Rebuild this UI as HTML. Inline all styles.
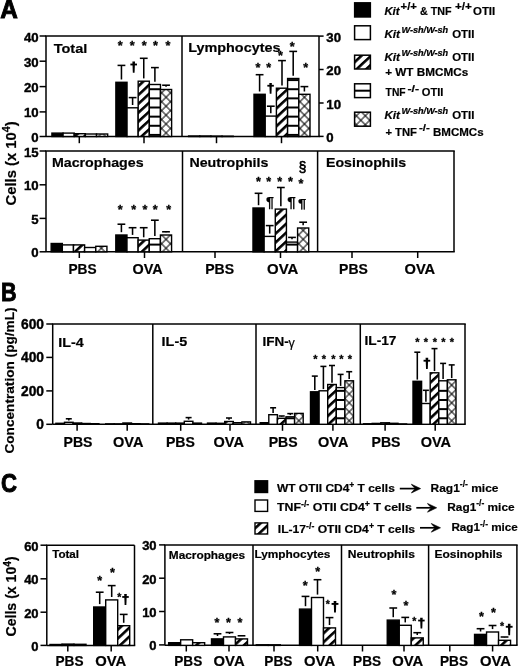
<!DOCTYPE html>
<html><head><meta charset="utf-8"><title>Figure</title>
<style>html,body{margin:0;padding:0;background:#fff;overflow:hidden;}svg{display:block;filter:blur(0.3px);}text{font-family:"Liberation Sans",sans-serif;}</style>
</head><body>
<svg width="520" height="667" viewBox="0 0 520 667" font-family="Liberation Sans, sans-serif" font-weight="bold" fill="#000">
<style>text{white-space:pre;stroke:#000;stroke-width:0.2px;paint-order:stroke;}</style>
<defs>
<pattern id="pd" patternUnits="userSpaceOnUse" width="6.5" height="6.5" patternTransform="rotate(47)"><rect x="0" y="0" width="6.5" height="6.5" fill="#fff"/><rect x="0" y="0" width="2.6" height="6.5" fill="#000"/></pattern>
<pattern id="px" patternUnits="userSpaceOnUse" width="6.3" height="6.3" patternTransform="rotate(45)"><rect x="0" y="0" width="6.3" height="6.3" fill="#fff"/><rect x="0" y="0" width="0.5" height="6.3" fill="#000"/><rect x="5.8" y="0" width="0.5" height="6.3" fill="#000"/><rect x="0" y="0" width="6.3" height="0.5" fill="#000"/><rect x="0" y="5.8" width="6.3" height="0.5" fill="#000"/></pattern>
</defs>
<rect x="0" y="0" width="520" height="667" fill="#fff"/>
<text x="0.20" y="17.60" font-size="25" text-anchor="start" textLength="17.60" lengthAdjust="spacingAndGlyphs" style="stroke-width:0.9px">A</text>
<text x="1.00" y="301.30" font-size="25" text-anchor="start" textLength="15.60" lengthAdjust="spacingAndGlyphs" style="stroke-width:0.9px">B</text>
<text x="1.00" y="492.40" font-size="25" text-anchor="start" textLength="16.00" lengthAdjust="spacingAndGlyphs" style="stroke-width:0.9px">C</text>
<text x="38.60" y="41.57" font-size="13.2" text-anchor="end" style="stroke-width:0.4px">40</text>
<text x="38.60" y="66.77" font-size="13.2" text-anchor="end" style="stroke-width:0.4px">30</text>
<text x="38.60" y="92.17" font-size="13.2" text-anchor="end" style="stroke-width:0.4px">20</text>
<text x="38.60" y="117.47" font-size="13.2" text-anchor="end" style="stroke-width:0.4px">10</text>
<text x="38.60" y="142.07" font-size="13.2" text-anchor="end" style="stroke-width:0.4px">0</text>
<text x="38.60" y="156.57" font-size="13.2" text-anchor="end" style="stroke-width:0.4px">15</text>
<text x="38.60" y="190.37" font-size="13.2" text-anchor="end" style="stroke-width:0.4px">10</text>
<text x="38.60" y="223.97" font-size="13.2" text-anchor="end" style="stroke-width:0.4px">5</text>
<text x="38.60" y="257.37" font-size="13.2" text-anchor="end" style="stroke-width:0.4px">0</text>
<text x="326.30" y="41.67" font-size="13.2" text-anchor="start" style="stroke-width:0.4px">30</text>
<text x="326.30" y="75.07" font-size="13.2" text-anchor="start" style="stroke-width:0.4px">20</text>
<text x="326.30" y="108.57" font-size="13.2" text-anchor="start" style="stroke-width:0.4px">10</text>
<text x="326.30" y="141.97" font-size="13.2" text-anchor="start" style="stroke-width:0.4px">0</text>
<g transform="translate(15.80,163.40) rotate(-90) translate(-42.00,0) scale(0.9991,1)">
<text x="0.00" y="0.00" font-size="14.80">Cells (x 10</text>
<text x="73.22" y="-5.62" font-size="10.66">4</text>
<text x="79.15" y="0.00" font-size="14.80">)</text>
</g>
<line x1="39.60" y1="36.00" x2="46.00" y2="36.00" stroke="#000" stroke-width="1.5"/>
<line x1="39.60" y1="61.20" x2="46.00" y2="61.20" stroke="#000" stroke-width="1.5"/>
<line x1="39.60" y1="86.60" x2="46.00" y2="86.60" stroke="#000" stroke-width="1.5"/>
<line x1="39.60" y1="111.90" x2="46.00" y2="111.90" stroke="#000" stroke-width="1.5"/>
<line x1="39.60" y1="136.50" x2="46.00" y2="136.50" stroke="#000" stroke-width="1.5"/>
<line x1="46.00" y1="36.00" x2="46.00" y2="136.50" stroke="#000" stroke-width="1.5"/>
<line x1="45.25" y1="36.00" x2="319.00" y2="36.00" stroke="#000" stroke-width="1.5"/>
<line x1="182.00" y1="36.00" x2="182.00" y2="136.50" stroke="#000" stroke-width="1.5"/>
<line x1="319.00" y1="36.00" x2="319.00" y2="136.50" stroke="#000" stroke-width="1.5"/>
<line x1="319.00" y1="36.10" x2="323.60" y2="36.10" stroke="#000" stroke-width="1.5"/>
<line x1="319.00" y1="69.50" x2="323.60" y2="69.50" stroke="#000" stroke-width="1.5"/>
<line x1="319.00" y1="103.00" x2="323.60" y2="103.00" stroke="#000" stroke-width="1.5"/>
<line x1="319.00" y1="136.40" x2="323.60" y2="136.40" stroke="#000" stroke-width="1.5"/>
<line x1="46.00" y1="136.50" x2="319.75" y2="136.50" stroke="#000" stroke-width="1.5"/>
<line x1="79.30" y1="136.50" x2="79.30" y2="143.20" stroke="#000" stroke-width="1.5"/>
<line x1="144.00" y1="136.50" x2="144.00" y2="143.20" stroke="#000" stroke-width="1.5"/>
<line x1="216.50" y1="136.50" x2="216.50" y2="143.20" stroke="#000" stroke-width="1.5"/>
<line x1="281.50" y1="136.50" x2="281.50" y2="143.20" stroke="#000" stroke-width="1.5"/>
<text x="53.74" y="53.00" font-size="13.6" text-anchor="start" textLength="33.55" lengthAdjust="spacingAndGlyphs">Total</text>
<text x="188.24" y="51.90" font-size="13.6" text-anchor="start" textLength="92.24" lengthAdjust="spacingAndGlyphs">Lymphocytes</text>
<rect x="51.92" y="133.10" width="11.15" height="3.40" fill="#000" stroke="#000" stroke-width="1.4"/>
<rect x="63.07" y="133.10" width="11.15" height="3.40" fill="#fff" stroke="#000" stroke-width="1.4"/>
<rect x="74.22" y="133.70" width="11.15" height="2.80" fill="url(#pd)" stroke="#000" stroke-width="1.4"/>
<rect x="85.38" y="134.00" width="11.15" height="2.50" fill="#fff" stroke="#000" stroke-width="1.4"/>
<pattern id="px1" href="#px" patternTransform="translate(102.10,132.90) rotate(45)"/>
<rect x="96.53" y="134.00" width="11.15" height="2.50" fill="url(#px1)" stroke="#000" stroke-width="1.4"/>
<rect x="115.88" y="82.30" width="11.15" height="54.20" fill="#000" stroke="#000" stroke-width="1.4"/>
<rect x="127.03" y="107.80" width="11.15" height="28.70" fill="#fff" stroke="#000" stroke-width="1.4"/>
<rect x="138.18" y="81.20" width="11.15" height="55.30" fill="url(#pd)" stroke="#000" stroke-width="1.4"/>
<rect x="149.32" y="84.50" width="11.15" height="52.00" fill="#fff" stroke="#000" stroke-width="1.4"/>
<line x1="149.32" y1="134.92" x2="160.47" y2="134.92" stroke="#000" stroke-width="2.0"/>
<line x1="149.32" y1="125.78" x2="160.47" y2="125.78" stroke="#000" stroke-width="2.0"/>
<line x1="149.32" y1="116.64" x2="160.47" y2="116.64" stroke="#000" stroke-width="2.0"/>
<line x1="149.32" y1="107.50" x2="160.47" y2="107.50" stroke="#000" stroke-width="2.0"/>
<line x1="149.32" y1="98.36" x2="160.47" y2="98.36" stroke="#000" stroke-width="2.0"/>
<line x1="149.32" y1="89.22" x2="160.47" y2="89.22" stroke="#000" stroke-width="2.0"/>
<pattern id="px2" href="#px" patternTransform="translate(166.05,132.90) rotate(45)"/>
<rect x="160.47" y="89.50" width="11.15" height="47.00" fill="url(#px2)" stroke="#000" stroke-width="1.4"/>
<line x1="121.45" y1="79.50" x2="121.45" y2="65.40" stroke="#000" stroke-width="1.55"/>
<line x1="117.55" y1="65.40" x2="125.35" y2="65.40" stroke="#000" stroke-width="1.55"/>
<line x1="132.60" y1="105.00" x2="132.60" y2="97.60" stroke="#000" stroke-width="1.55"/>
<line x1="128.70" y1="97.60" x2="136.50" y2="97.60" stroke="#000" stroke-width="1.55"/>
<line x1="143.75" y1="78.40" x2="143.75" y2="58.30" stroke="#000" stroke-width="1.55"/>
<line x1="139.85" y1="58.30" x2="147.65" y2="58.30" stroke="#000" stroke-width="1.55"/>
<line x1="154.90" y1="81.70" x2="154.90" y2="67.60" stroke="#000" stroke-width="1.55"/>
<line x1="151.00" y1="67.60" x2="158.80" y2="67.60" stroke="#000" stroke-width="1.55"/>
<line x1="166.05" y1="86.70" x2="166.05" y2="85.20" stroke="#000" stroke-width="1.55"/>
<line x1="162.15" y1="85.20" x2="169.95" y2="85.20" stroke="#000" stroke-width="1.55"/>
<text x="120.20" y="50.33" font-size="12.6" text-anchor="middle" style="stroke-width:0.3px">*</text>
<text x="132.30" y="50.33" font-size="12.6" text-anchor="middle" style="stroke-width:0.3px">*</text>
<text x="144.20" y="50.33" font-size="12.6" text-anchor="middle" style="stroke-width:0.3px">*</text>
<text x="155.40" y="50.33" font-size="12.6" text-anchor="middle" style="stroke-width:0.3px">*</text>
<text x="168.00" y="50.33" font-size="12.6" text-anchor="middle" style="stroke-width:0.3px">*</text>
<path d="M132.40,61.60 L135.00,61.60 L134.57,72.70 L132.83,72.70 Z" fill="#000"/>
<rect x="130.39" y="63.58" width="6.61" height="1.82" fill="#000"/>
<rect x="188.62" y="136.00" width="11.15" height="0.50" fill="#000" stroke="#000" stroke-width="1.4"/>
<rect x="199.78" y="136.00" width="11.15" height="0.50" fill="#fff" stroke="#000" stroke-width="1.4"/>
<rect x="210.93" y="136.10" width="11.15" height="0.40" fill="url(#pd)" stroke="#000" stroke-width="1.4"/>
<rect x="222.07" y="136.20" width="11.15" height="0.30" fill="#fff" stroke="#000" stroke-width="1.4"/>
<rect x="254.00" y="94.30" width="11.20" height="42.20" fill="#000" stroke="#000" stroke-width="1.4"/>
<rect x="265.20" y="116.10" width="11.20" height="20.40" fill="#fff" stroke="#000" stroke-width="1.4"/>
<rect x="276.40" y="88.20" width="11.20" height="48.30" fill="url(#pd)" stroke="#000" stroke-width="1.4"/>
<rect x="287.60" y="78.50" width="11.20" height="58.00" fill="#fff" stroke="#000" stroke-width="1.4"/>
<line x1="287.60" y1="134.92" x2="298.80" y2="134.92" stroke="#000" stroke-width="2.0"/>
<line x1="287.60" y1="125.78" x2="298.80" y2="125.78" stroke="#000" stroke-width="2.0"/>
<line x1="287.60" y1="116.64" x2="298.80" y2="116.64" stroke="#000" stroke-width="2.0"/>
<line x1="287.60" y1="107.50" x2="298.80" y2="107.50" stroke="#000" stroke-width="2.0"/>
<line x1="287.60" y1="98.36" x2="298.80" y2="98.36" stroke="#000" stroke-width="2.0"/>
<line x1="287.60" y1="89.22" x2="298.80" y2="89.22" stroke="#000" stroke-width="2.0"/>
<line x1="287.60" y1="80.08" x2="298.80" y2="80.08" stroke="#000" stroke-width="2.0"/>
<pattern id="px3" href="#px" patternTransform="translate(304.40,132.90) rotate(45)"/>
<rect x="298.80" y="94.30" width="11.20" height="42.20" fill="url(#px3)" stroke="#000" stroke-width="1.4"/>
<line x1="259.60" y1="91.50" x2="259.60" y2="74.70" stroke="#000" stroke-width="1.55"/>
<line x1="255.70" y1="74.70" x2="263.50" y2="74.70" stroke="#000" stroke-width="1.55"/>
<line x1="270.80" y1="113.30" x2="270.80" y2="106.20" stroke="#000" stroke-width="1.55"/>
<line x1="266.90" y1="106.20" x2="274.70" y2="106.20" stroke="#000" stroke-width="1.55"/>
<line x1="282.00" y1="85.40" x2="282.00" y2="60.60" stroke="#000" stroke-width="1.55"/>
<line x1="278.10" y1="60.60" x2="285.90" y2="60.60" stroke="#000" stroke-width="1.55"/>
<line x1="293.20" y1="75.70" x2="293.20" y2="51.40" stroke="#000" stroke-width="1.55"/>
<line x1="289.30" y1="51.40" x2="297.10" y2="51.40" stroke="#000" stroke-width="1.55"/>
<line x1="304.40" y1="91.50" x2="304.40" y2="86.60" stroke="#000" stroke-width="1.55"/>
<line x1="300.50" y1="86.60" x2="308.30" y2="86.60" stroke="#000" stroke-width="1.55"/>
<text x="258.00" y="71.83" font-size="12.6" text-anchor="middle" style="stroke-width:0.3px">*</text>
<text x="268.70" y="71.83" font-size="12.6" text-anchor="middle" style="stroke-width:0.3px">*</text>
<text x="280.40" y="59.63" font-size="12.6" text-anchor="middle" style="stroke-width:0.3px">*</text>
<text x="292.30" y="51.23" font-size="12.6" text-anchor="middle" style="stroke-width:0.3px">*</text>
<text x="305.80" y="71.83" font-size="12.6" text-anchor="middle" style="stroke-width:0.3px">*</text>
<path d="M269.32,82.90 L271.88,82.90 L271.45,93.80 L269.75,93.80 Z" fill="#000"/>
<rect x="267.35" y="84.84" width="6.50" height="1.79" fill="#000"/>
<line x1="39.60" y1="151.00" x2="46.00" y2="151.00" stroke="#000" stroke-width="1.5"/>
<line x1="39.60" y1="184.80" x2="46.00" y2="184.80" stroke="#000" stroke-width="1.5"/>
<line x1="39.60" y1="218.40" x2="46.00" y2="218.40" stroke="#000" stroke-width="1.5"/>
<line x1="39.60" y1="251.80" x2="46.00" y2="251.80" stroke="#000" stroke-width="1.5"/>
<line x1="46.00" y1="151.00" x2="46.00" y2="251.80" stroke="#000" stroke-width="1.5"/>
<line x1="45.25" y1="151.00" x2="454.75" y2="151.00" stroke="#000" stroke-width="1.5"/>
<line x1="182.50" y1="151.00" x2="182.50" y2="251.80" stroke="#000" stroke-width="1.5"/>
<line x1="317.60" y1="151.00" x2="317.60" y2="251.80" stroke="#000" stroke-width="1.5"/>
<line x1="454.00" y1="151.00" x2="454.00" y2="251.80" stroke="#000" stroke-width="1.5"/>
<line x1="46.00" y1="251.80" x2="454.75" y2="251.80" stroke="#000" stroke-width="1.5"/>
<line x1="79.30" y1="251.80" x2="79.30" y2="258.00" stroke="#000" stroke-width="1.5"/>
<line x1="144.50" y1="251.80" x2="144.50" y2="258.00" stroke="#000" stroke-width="1.5"/>
<line x1="215.00" y1="251.80" x2="215.00" y2="258.00" stroke="#000" stroke-width="1.5"/>
<line x1="280.50" y1="251.80" x2="280.50" y2="258.00" stroke="#000" stroke-width="1.5"/>
<line x1="352.00" y1="251.80" x2="352.00" y2="258.00" stroke="#000" stroke-width="1.5"/>
<line x1="417.70" y1="251.80" x2="417.70" y2="258.00" stroke="#000" stroke-width="1.5"/>
<text x="51.95" y="167.00" font-size="13.6" text-anchor="start" textLength="91.63" lengthAdjust="spacingAndGlyphs">Macrophages</text>
<text x="189.45" y="167.20" font-size="13.6" text-anchor="start" textLength="78.93" lengthAdjust="spacingAndGlyphs">Neutrophils</text>
<text x="326.05" y="167.20" font-size="13.6" text-anchor="start" textLength="80.13" lengthAdjust="spacingAndGlyphs">Eosinophils</text>
<text x="68.38" y="273.80" font-size="13.9" text-anchor="start" textLength="28.15" lengthAdjust="spacingAndGlyphs">PBS</text>
<text x="132.53" y="273.80" font-size="13.9" text-anchor="start" textLength="30.14" lengthAdjust="spacingAndGlyphs">OVA</text>
<text x="205.26" y="273.80" font-size="13.9" text-anchor="start" textLength="28.89" lengthAdjust="spacingAndGlyphs">PBS</text>
<text x="267.11" y="273.80" font-size="13.9" text-anchor="start" textLength="31.27" lengthAdjust="spacingAndGlyphs">OVA</text>
<text x="339.06" y="273.80" font-size="13.9" text-anchor="start" textLength="28.78" lengthAdjust="spacingAndGlyphs">PBS</text>
<text x="404.52" y="273.80" font-size="13.9" text-anchor="start" textLength="30.65" lengthAdjust="spacingAndGlyphs">OVA</text>
<rect x="51.17" y="243.50" width="11.15" height="8.30" fill="#000" stroke="#000" stroke-width="1.4"/>
<rect x="62.32" y="244.90" width="11.15" height="6.90" fill="#fff" stroke="#000" stroke-width="1.4"/>
<rect x="73.47" y="244.90" width="11.15" height="6.90" fill="url(#pd)" stroke="#000" stroke-width="1.4"/>
<rect x="84.62" y="247.50" width="11.15" height="4.30" fill="#fff" stroke="#000" stroke-width="1.4"/>
<pattern id="px4" href="#px" patternTransform="translate(101.35,248.20) rotate(45)"/>
<rect x="95.78" y="246.30" width="11.15" height="5.50" fill="url(#px4)" stroke="#000" stroke-width="1.4"/>
<rect x="115.82" y="235.00" width="11.15" height="16.80" fill="#000" stroke="#000" stroke-width="1.4"/>
<rect x="126.97" y="237.70" width="11.15" height="14.10" fill="#fff" stroke="#000" stroke-width="1.4"/>
<rect x="138.12" y="240.10" width="11.15" height="11.70" fill="url(#pd)" stroke="#000" stroke-width="1.4"/>
<rect x="149.27" y="238.70" width="11.15" height="13.10" fill="#fff" stroke="#000" stroke-width="1.4"/>
<line x1="149.27" y1="244.60" x2="160.42" y2="244.60" stroke="#000" stroke-width="2.0"/>
<pattern id="px5" href="#px" patternTransform="translate(166.00,248.20) rotate(45)"/>
<rect x="160.42" y="235.00" width="11.15" height="16.80" fill="url(#px5)" stroke="#000" stroke-width="1.4"/>
<line x1="121.40" y1="232.20" x2="121.40" y2="224.20" stroke="#000" stroke-width="1.55"/>
<line x1="117.50" y1="224.20" x2="125.30" y2="224.20" stroke="#000" stroke-width="1.55"/>
<line x1="132.55" y1="234.90" x2="132.55" y2="227.70" stroke="#000" stroke-width="1.55"/>
<line x1="128.65" y1="227.70" x2="136.45" y2="227.70" stroke="#000" stroke-width="1.55"/>
<line x1="143.70" y1="237.30" x2="143.70" y2="227.70" stroke="#000" stroke-width="1.55"/>
<line x1="139.80" y1="227.70" x2="147.60" y2="227.70" stroke="#000" stroke-width="1.55"/>
<line x1="154.85" y1="235.90" x2="154.85" y2="220.20" stroke="#000" stroke-width="1.55"/>
<line x1="150.95" y1="220.20" x2="158.75" y2="220.20" stroke="#000" stroke-width="1.55"/>
<line x1="166.00" y1="232.20" x2="166.00" y2="231.80" stroke="#000" stroke-width="1.55"/>
<line x1="162.10" y1="231.80" x2="169.90" y2="231.80" stroke="#000" stroke-width="1.55"/>
<text x="120.20" y="214.13" font-size="12.6" text-anchor="middle" style="stroke-width:0.3px">*</text>
<text x="133.70" y="214.13" font-size="12.6" text-anchor="middle" style="stroke-width:0.3px">*</text>
<text x="145.00" y="214.13" font-size="12.6" text-anchor="middle" style="stroke-width:0.3px">*</text>
<text x="155.20" y="214.13" font-size="12.6" text-anchor="middle" style="stroke-width:0.3px">*</text>
<text x="168.70" y="214.13" font-size="12.6" text-anchor="middle" style="stroke-width:0.3px">*</text>
<rect x="252.98" y="208.00" width="11.15" height="43.80" fill="#000" stroke="#000" stroke-width="1.4"/>
<rect x="264.12" y="236.40" width="11.15" height="15.40" fill="#fff" stroke="#000" stroke-width="1.4"/>
<rect x="275.28" y="209.10" width="11.15" height="42.70" fill="url(#pd)" stroke="#000" stroke-width="1.4"/>
<rect x="286.43" y="242.10" width="11.15" height="9.70" fill="#fff" stroke="#000" stroke-width="1.4"/>
<line x1="286.43" y1="244.60" x2="297.58" y2="244.60" stroke="#000" stroke-width="2.0"/>
<pattern id="px6" href="#px" patternTransform="translate(303.15,248.20) rotate(45)"/>
<rect x="297.58" y="228.00" width="11.15" height="23.80" fill="url(#px6)" stroke="#000" stroke-width="1.4"/>
<line x1="258.55" y1="205.20" x2="258.55" y2="193.30" stroke="#000" stroke-width="1.55"/>
<line x1="254.65" y1="193.30" x2="262.45" y2="193.30" stroke="#000" stroke-width="1.55"/>
<line x1="269.70" y1="233.60" x2="269.70" y2="225.60" stroke="#000" stroke-width="1.55"/>
<line x1="265.80" y1="225.60" x2="273.60" y2="225.60" stroke="#000" stroke-width="1.55"/>
<line x1="280.85" y1="206.30" x2="280.85" y2="187.50" stroke="#000" stroke-width="1.55"/>
<line x1="276.95" y1="187.50" x2="284.75" y2="187.50" stroke="#000" stroke-width="1.55"/>
<line x1="292.00" y1="239.30" x2="292.00" y2="237.40" stroke="#000" stroke-width="1.55"/>
<line x1="288.10" y1="237.40" x2="295.90" y2="237.40" stroke="#000" stroke-width="1.55"/>
<line x1="303.15" y1="225.20" x2="303.15" y2="222.20" stroke="#000" stroke-width="1.55"/>
<line x1="299.25" y1="222.20" x2="307.05" y2="222.20" stroke="#000" stroke-width="1.55"/>
<text x="258.40" y="185.73" font-size="12.6" text-anchor="middle" style="stroke-width:0.3px">*</text>
<text x="268.60" y="185.73" font-size="12.6" text-anchor="middle" style="stroke-width:0.3px">*</text>
<text x="279.70" y="185.73" font-size="12.6" text-anchor="middle" style="stroke-width:0.3px">*</text>
<text x="290.40" y="185.73" font-size="12.6" text-anchor="middle" style="stroke-width:0.3px">*</text>
<text x="300.90" y="187.83" font-size="12.6" text-anchor="middle" style="stroke-width:0.3px">*</text>
<text transform="translate(266.10,206.64) scale(0.9444,1)" x="0" y="0" font-size="15.18" font-weight="bold">¶</text>
<text transform="translate(287.27,206.64) scale(1.0633,1)" x="0" y="0" font-size="14.44" font-weight="bold">¶</text>
<text transform="translate(297.88,208.26) scale(1.1103,1)" x="0" y="0" font-size="13.47" font-weight="bold">¶</text>
<text transform="translate(298.64,171.60) scale(0.8745,1)" x="0" y="0" font-size="15.46" font-weight="normal" style="stroke-width:0.75px">§</text>
<rect x="354.6" y="2.8" width="15.80" height="14.20" fill="#000" stroke="#000" stroke-width="1.4"/>
<rect x="354.6" y="25.8" width="15.80" height="13.80" fill="#fff" stroke="#000" stroke-width="1.5"/>
<rect x="354.6" y="55.2" width="15.80" height="13.80" fill="url(#pd)" stroke="#000" stroke-width="1.5"/>
<rect x="354.6" y="83.8" width="15.80" height="13.80" fill="#fff" stroke="#000" stroke-width="1.5"/>
<line x1="354.60" y1="90.70" x2="370.40" y2="90.70" stroke="#000" stroke-width="2.0"/>
<rect x="354.6" y="112.2" width="15.80" height="14.00" fill="url(#px)" stroke="#000" stroke-width="1.5"/>
<text x="384.40" y="15.40" font-size="11.60" font-style="italic" textLength="15.20" lengthAdjust="spacingAndGlyphs">Kit</text>
<text x="400.60" y="10.30" font-size="10.67" textLength="16.40" lengthAdjust="spacingAndGlyphs">+/+</text>
<text x="420.00" y="15.40" font-size="11.60" textLength="31.60" lengthAdjust="spacingAndGlyphs">&amp; TNF</text>
<text x="455.00" y="10.30" font-size="10.67" textLength="17.00" lengthAdjust="spacingAndGlyphs">+/+</text>
<text x="473.00" y="15.40" font-size="11.60" textLength="22.20" lengthAdjust="spacingAndGlyphs">OTII</text>
<text x="384.40" y="37.60" font-size="11.60" font-style="italic" textLength="15.60" lengthAdjust="spacingAndGlyphs">Kit</text>
<text x="401.60" y="32.96" font-size="8.58" font-style="italic" textLength="46.60" lengthAdjust="spacingAndGlyphs">W-sh/W-sh</text>
<text x="452.20" y="37.60" font-size="11.60" textLength="22.20" lengthAdjust="spacingAndGlyphs">OTII</text>
<text x="384.40" y="60.90" font-size="11.60" font-style="italic" textLength="15.60" lengthAdjust="spacingAndGlyphs">Kit</text>
<text x="401.60" y="56.26" font-size="8.58" font-style="italic" textLength="46.60" lengthAdjust="spacingAndGlyphs">W-sh/W-sh</text>
<text x="452.20" y="60.90" font-size="11.60" textLength="22.20" lengthAdjust="spacingAndGlyphs">OTII</text>
<text x="385.20" y="75.80" font-size="11.60" textLength="83.00" lengthAdjust="spacingAndGlyphs">+ WT BMCMCs</text>
<text x="385.60" y="96.20" font-size="11.60" textLength="20.00" lengthAdjust="spacingAndGlyphs">TNF</text>
<text x="407.40" y="91.56" font-size="9.28" textLength="11.60" lengthAdjust="spacingAndGlyphs">-/-</text>
<text x="421.80" y="96.20" font-size="11.60" textLength="21.60" lengthAdjust="spacingAndGlyphs">OTII</text>
<text x="384.40" y="119.10" font-size="11.60" font-style="italic" textLength="15.60" lengthAdjust="spacingAndGlyphs">Kit</text>
<text x="401.60" y="114.46" font-size="8.58" font-style="italic" textLength="46.60" lengthAdjust="spacingAndGlyphs">W-sh/W-sh</text>
<text x="452.20" y="119.10" font-size="11.60" textLength="22.20" lengthAdjust="spacingAndGlyphs">OTII</text>
<text x="385.40" y="135.90" font-size="11.60" textLength="31.60" lengthAdjust="spacingAndGlyphs">+ TNF</text>
<text x="419.00" y="131.26" font-size="9.28" textLength="10.80" lengthAdjust="spacingAndGlyphs">-/-</text>
<text x="433.00" y="135.90" font-size="11.60" textLength="50.60" lengthAdjust="spacingAndGlyphs">BMCMCs</text>
<line x1="46.30" y1="324.00" x2="52.70" y2="324.00" stroke="#000" stroke-width="1.5"/>
<line x1="46.30" y1="357.40" x2="52.70" y2="357.40" stroke="#000" stroke-width="1.5"/>
<line x1="46.30" y1="390.90" x2="52.70" y2="390.90" stroke="#000" stroke-width="1.5"/>
<line x1="46.30" y1="424.30" x2="52.70" y2="424.30" stroke="#000" stroke-width="1.5"/>
<text x="44.00" y="329.09" font-size="13.8" text-anchor="end" style="stroke-width:0.4px">600</text>
<text x="44.00" y="362.49" font-size="13.8" text-anchor="end" style="stroke-width:0.4px">400</text>
<text x="44.00" y="395.99" font-size="13.8" text-anchor="end" style="stroke-width:0.4px">200</text>
<text x="44.00" y="429.39" font-size="13.8" text-anchor="end" style="stroke-width:0.4px">0</text>
<g transform="translate(13.90,380.40) rotate(-90) translate(-73.20,0) scale(1.0041,1)">
<text x="0.00" y="0.00" font-size="13.60">Concentration (pg/mL)</text>
</g>
<line x1="52.70" y1="324.00" x2="52.70" y2="424.30" stroke="#000" stroke-width="1.5"/>
<line x1="51.95" y1="324.00" x2="465.75" y2="324.00" stroke="#000" stroke-width="1.5"/>
<line x1="152.80" y1="324.00" x2="152.80" y2="424.30" stroke="#000" stroke-width="1.5"/>
<line x1="256.00" y1="324.00" x2="256.00" y2="424.30" stroke="#000" stroke-width="1.5"/>
<line x1="360.30" y1="324.00" x2="360.30" y2="424.30" stroke="#000" stroke-width="1.5"/>
<line x1="465.00" y1="324.00" x2="465.00" y2="424.30" stroke="#000" stroke-width="1.5"/>
<line x1="52.70" y1="424.30" x2="465.75" y2="424.30" stroke="#000" stroke-width="1.5"/>
<line x1="77.10" y1="424.30" x2="77.10" y2="430.80" stroke="#000" stroke-width="1.5"/>
<line x1="127.20" y1="424.30" x2="127.20" y2="430.80" stroke="#000" stroke-width="1.5"/>
<line x1="180.70" y1="424.30" x2="180.70" y2="430.80" stroke="#000" stroke-width="1.5"/>
<line x1="230.00" y1="424.30" x2="230.00" y2="430.80" stroke="#000" stroke-width="1.5"/>
<line x1="282.50" y1="424.30" x2="282.50" y2="430.80" stroke="#000" stroke-width="1.5"/>
<line x1="332.90" y1="424.30" x2="332.90" y2="430.80" stroke="#000" stroke-width="1.5"/>
<line x1="385.10" y1="424.30" x2="385.10" y2="430.80" stroke="#000" stroke-width="1.5"/>
<line x1="435.20" y1="424.30" x2="435.20" y2="430.80" stroke="#000" stroke-width="1.5"/>
<text x="63.51" y="447.20" font-size="13.9" text-anchor="start" textLength="28.99" lengthAdjust="spacingAndGlyphs">PBS</text>
<text x="113.03" y="447.20" font-size="13.9" text-anchor="start" textLength="30.34" lengthAdjust="spacingAndGlyphs">OVA</text>
<text x="165.91" y="447.20" font-size="13.9" text-anchor="start" textLength="28.99" lengthAdjust="spacingAndGlyphs">PBS</text>
<text x="213.53" y="447.20" font-size="13.9" text-anchor="start" textLength="30.34" lengthAdjust="spacingAndGlyphs">OVA</text>
<text x="268.71" y="447.20" font-size="13.9" text-anchor="start" textLength="28.99" lengthAdjust="spacingAndGlyphs">PBS</text>
<text x="318.03" y="447.20" font-size="13.9" text-anchor="start" textLength="30.34" lengthAdjust="spacingAndGlyphs">OVA</text>
<text x="371.51" y="447.20" font-size="13.9" text-anchor="start" textLength="28.99" lengthAdjust="spacingAndGlyphs">PBS</text>
<text x="420.73" y="447.20" font-size="13.9" text-anchor="start" textLength="30.34" lengthAdjust="spacingAndGlyphs">OVA</text>
<text x="58.24" y="346.60" font-size="13.6" text-anchor="start" textLength="25.43" lengthAdjust="spacingAndGlyphs">IL-4</text>
<text x="161.64" y="346.20" font-size="13.6" text-anchor="start" textLength="25.56" lengthAdjust="spacingAndGlyphs">IL-5</text>
<text x="262.60" y="346.40" font-size="13.6" text-anchor="start" textLength="26.24" lengthAdjust="spacingAndGlyphs">IFN-</text>
<text x="288.6" y="346.6" font-size="12.6" font-weight="normal" style="stroke-width:0.15px">γ</text>
<text x="364.49" y="345.40" font-size="13.6" text-anchor="start" textLength="31.92" lengthAdjust="spacingAndGlyphs">IL-17</text>
<rect x="55.90" y="423.30" width="8.60" height="1.00" fill="#000" stroke="#000" stroke-width="1.4"/>
<rect x="64.50" y="422.30" width="8.60" height="2.00" fill="#fff" stroke="#000" stroke-width="1.4"/>
<rect x="73.10" y="423.00" width="8.60" height="1.30" fill="url(#pd)" stroke="#000" stroke-width="1.4"/>
<rect x="81.70" y="423.50" width="8.60" height="0.80" fill="#fff" stroke="#000" stroke-width="1.4"/>
<pattern id="px7" href="#px" patternTransform="translate(94.60,420.70) rotate(45)"/>
<rect x="90.30" y="423.70" width="8.60" height="0.60" fill="url(#px7)" stroke="#000" stroke-width="1.4"/>
<line x1="68.80" y1="420.60" x2="68.80" y2="418.80" stroke="#000" stroke-width="1.55"/>
<line x1="65.80" y1="418.80" x2="71.80" y2="418.80" stroke="#000" stroke-width="1.55"/>
<rect x="105.70" y="423.90" width="8.60" height="0.40" fill="#000" stroke="#000" stroke-width="1.4"/>
<rect x="114.30" y="423.90" width="8.60" height="0.40" fill="#fff" stroke="#000" stroke-width="1.4"/>
<rect x="122.90" y="423.00" width="8.60" height="1.30" fill="url(#pd)" stroke="#000" stroke-width="1.4"/>
<rect x="131.50" y="423.70" width="8.60" height="0.60" fill="#fff" stroke="#000" stroke-width="1.4"/>
<pattern id="px8" href="#px" patternTransform="translate(144.40,420.70) rotate(45)"/>
<rect x="140.10" y="423.90" width="8.60" height="0.40" fill="url(#px8)" stroke="#000" stroke-width="1.4"/>
<rect x="158.50" y="423.10" width="8.60" height="1.20" fill="#000" stroke="#000" stroke-width="1.4"/>
<rect x="167.10" y="423.10" width="8.60" height="1.20" fill="#fff" stroke="#000" stroke-width="1.4"/>
<rect x="175.70" y="423.10" width="8.60" height="1.20" fill="url(#pd)" stroke="#000" stroke-width="1.4"/>
<rect x="184.30" y="421.30" width="8.60" height="3.00" fill="#fff" stroke="#000" stroke-width="1.4"/>
<pattern id="px9" href="#px" patternTransform="translate(197.20,420.70) rotate(45)"/>
<rect x="192.90" y="423.10" width="8.60" height="1.20" fill="url(#px9)" stroke="#000" stroke-width="1.4"/>
<line x1="188.60" y1="419.60" x2="188.60" y2="417.60" stroke="#000" stroke-width="1.55"/>
<line x1="185.60" y1="417.60" x2="191.60" y2="417.60" stroke="#000" stroke-width="1.55"/>
<rect x="207.50" y="423.10" width="8.60" height="1.20" fill="#000" stroke="#000" stroke-width="1.4"/>
<rect x="216.10" y="423.30" width="8.60" height="1.00" fill="#fff" stroke="#000" stroke-width="1.4"/>
<rect x="224.70" y="421.50" width="8.60" height="2.80" fill="url(#pd)" stroke="#000" stroke-width="1.4"/>
<rect x="233.30" y="422.70" width="8.60" height="1.60" fill="#fff" stroke="#000" stroke-width="1.4"/>
<pattern id="px10" href="#px" patternTransform="translate(246.20,420.70) rotate(45)"/>
<rect x="241.90" y="421.90" width="8.60" height="2.40" fill="url(#px10)" stroke="#000" stroke-width="1.4"/>
<line x1="229.00" y1="419.80" x2="229.00" y2="418.00" stroke="#000" stroke-width="1.55"/>
<line x1="226.00" y1="418.00" x2="232.00" y2="418.00" stroke="#000" stroke-width="1.55"/>
<rect x="260.20" y="422.70" width="8.60" height="1.60" fill="#000" stroke="#000" stroke-width="1.4"/>
<rect x="268.80" y="414.70" width="8.60" height="9.60" fill="#fff" stroke="#000" stroke-width="1.4"/>
<rect x="277.40" y="418.30" width="8.60" height="6.00" fill="url(#pd)" stroke="#000" stroke-width="1.4"/>
<rect x="286.00" y="416.80" width="8.60" height="7.50" fill="#fff" stroke="#000" stroke-width="1.4"/>
<line x1="286.00" y1="418.26" x2="294.60" y2="418.26" stroke="#000" stroke-width="2.0"/>
<pattern id="px11" href="#px" patternTransform="translate(298.90,420.70) rotate(45)"/>
<rect x="294.60" y="413.40" width="8.60" height="10.90" fill="url(#px11)" stroke="#000" stroke-width="1.4"/>
<line x1="273.10" y1="413.00" x2="273.10" y2="407.80" stroke="#000" stroke-width="1.55"/>
<line x1="270.10" y1="407.80" x2="276.10" y2="407.80" stroke="#000" stroke-width="1.55"/>
<line x1="281.70" y1="416.60" x2="281.70" y2="416.00" stroke="#000" stroke-width="1.55"/>
<line x1="278.70" y1="416.00" x2="284.70" y2="416.00" stroke="#000" stroke-width="1.55"/>
<line x1="290.30" y1="415.10" x2="290.30" y2="413.60" stroke="#000" stroke-width="1.55"/>
<line x1="287.30" y1="413.60" x2="293.30" y2="413.60" stroke="#000" stroke-width="1.55"/>
<rect x="310.50" y="391.80" width="8.60" height="32.50" fill="#000" stroke="#000" stroke-width="1.4"/>
<rect x="319.10" y="390.80" width="8.60" height="33.50" fill="#fff" stroke="#000" stroke-width="1.4"/>
<rect x="327.70" y="384.50" width="8.60" height="39.80" fill="url(#pd)" stroke="#000" stroke-width="1.4"/>
<rect x="336.30" y="387.60" width="8.60" height="36.70" fill="#fff" stroke="#000" stroke-width="1.4"/>
<line x1="336.30" y1="418.26" x2="344.90" y2="418.26" stroke="#000" stroke-width="2.0"/>
<line x1="336.30" y1="409.12" x2="344.90" y2="409.12" stroke="#000" stroke-width="2.0"/>
<line x1="336.30" y1="399.98" x2="344.90" y2="399.98" stroke="#000" stroke-width="2.0"/>
<line x1="336.30" y1="390.84" x2="344.90" y2="390.84" stroke="#000" stroke-width="2.0"/>
<pattern id="px12" href="#px" patternTransform="translate(349.20,420.70) rotate(45)"/>
<rect x="344.90" y="380.80" width="8.60" height="43.50" fill="url(#px12)" stroke="#000" stroke-width="1.4"/>
<line x1="314.80" y1="390.10" x2="314.80" y2="376.10" stroke="#000" stroke-width="1.55"/>
<line x1="311.80" y1="376.10" x2="317.80" y2="376.10" stroke="#000" stroke-width="1.55"/>
<line x1="323.40" y1="389.10" x2="323.40" y2="366.40" stroke="#000" stroke-width="1.55"/>
<line x1="320.40" y1="366.40" x2="326.40" y2="366.40" stroke="#000" stroke-width="1.55"/>
<line x1="332.00" y1="382.80" x2="332.00" y2="365.50" stroke="#000" stroke-width="1.55"/>
<line x1="329.00" y1="365.50" x2="335.00" y2="365.50" stroke="#000" stroke-width="1.55"/>
<line x1="340.60" y1="385.90" x2="340.60" y2="374.40" stroke="#000" stroke-width="1.55"/>
<line x1="337.60" y1="374.40" x2="343.60" y2="374.40" stroke="#000" stroke-width="1.55"/>
<line x1="349.20" y1="379.10" x2="349.20" y2="371.70" stroke="#000" stroke-width="1.55"/>
<line x1="346.20" y1="371.70" x2="352.20" y2="371.70" stroke="#000" stroke-width="1.55"/>
<text x="315.30" y="362.82" font-size="11" text-anchor="middle" style="stroke-width:0.3px">*</text>
<text x="323.80" y="362.82" font-size="11" text-anchor="middle" style="stroke-width:0.3px">*</text>
<text x="333.30" y="362.82" font-size="11" text-anchor="middle" style="stroke-width:0.3px">*</text>
<text x="341.30" y="362.82" font-size="11" text-anchor="middle" style="stroke-width:0.3px">*</text>
<text x="349.80" y="362.82" font-size="11" text-anchor="middle" style="stroke-width:0.3px">*</text>
<rect x="363.60" y="423.80" width="8.60" height="0.50" fill="#000" stroke="#000" stroke-width="1.4"/>
<rect x="372.20" y="423.40" width="8.60" height="0.90" fill="#fff" stroke="#000" stroke-width="1.4"/>
<rect x="380.80" y="422.80" width="8.60" height="1.50" fill="url(#pd)" stroke="#000" stroke-width="1.4"/>
<rect x="389.40" y="423.30" width="8.60" height="1.00" fill="#fff" stroke="#000" stroke-width="1.4"/>
<pattern id="px13" href="#px" patternTransform="translate(402.30,420.70) rotate(45)"/>
<rect x="398.00" y="424.00" width="8.60" height="0.30" fill="url(#px13)" stroke="#000" stroke-width="1.4"/>
<rect x="413.00" y="381.30" width="8.60" height="43.00" fill="#000" stroke="#000" stroke-width="1.4"/>
<rect x="421.60" y="403.50" width="8.60" height="20.80" fill="#fff" stroke="#000" stroke-width="1.4"/>
<rect x="430.20" y="372.80" width="8.60" height="51.50" fill="url(#pd)" stroke="#000" stroke-width="1.4"/>
<rect x="438.80" y="380.80" width="8.60" height="43.50" fill="#fff" stroke="#000" stroke-width="1.4"/>
<line x1="438.80" y1="418.26" x2="447.40" y2="418.26" stroke="#000" stroke-width="2.0"/>
<line x1="438.80" y1="409.12" x2="447.40" y2="409.12" stroke="#000" stroke-width="2.0"/>
<line x1="438.80" y1="399.98" x2="447.40" y2="399.98" stroke="#000" stroke-width="2.0"/>
<line x1="438.80" y1="390.84" x2="447.40" y2="390.84" stroke="#000" stroke-width="2.0"/>
<pattern id="px14" href="#px" patternTransform="translate(451.70,420.70) rotate(45)"/>
<rect x="447.40" y="379.80" width="8.60" height="44.50" fill="url(#px14)" stroke="#000" stroke-width="1.4"/>
<line x1="417.30" y1="379.60" x2="417.30" y2="352.20" stroke="#000" stroke-width="1.55"/>
<line x1="414.30" y1="352.20" x2="420.30" y2="352.20" stroke="#000" stroke-width="1.55"/>
<line x1="425.90" y1="401.80" x2="425.90" y2="390.30" stroke="#000" stroke-width="1.55"/>
<line x1="422.90" y1="390.30" x2="428.90" y2="390.30" stroke="#000" stroke-width="1.55"/>
<line x1="434.50" y1="371.10" x2="434.50" y2="348.60" stroke="#000" stroke-width="1.55"/>
<line x1="431.50" y1="348.60" x2="437.50" y2="348.60" stroke="#000" stroke-width="1.55"/>
<line x1="443.10" y1="379.10" x2="443.10" y2="363.40" stroke="#000" stroke-width="1.55"/>
<line x1="440.10" y1="363.40" x2="446.10" y2="363.40" stroke="#000" stroke-width="1.55"/>
<line x1="451.70" y1="378.10" x2="451.70" y2="364.90" stroke="#000" stroke-width="1.55"/>
<line x1="448.70" y1="364.90" x2="454.70" y2="364.90" stroke="#000" stroke-width="1.55"/>
<text x="417.40" y="345.92" font-size="11" text-anchor="middle" style="stroke-width:0.3px">*</text>
<text x="425.90" y="345.92" font-size="11" text-anchor="middle" style="stroke-width:0.3px">*</text>
<text x="435.00" y="345.92" font-size="11" text-anchor="middle" style="stroke-width:0.3px">*</text>
<text x="443.40" y="345.92" font-size="11" text-anchor="middle" style="stroke-width:0.3px">*</text>
<text x="451.90" y="345.92" font-size="11" text-anchor="middle" style="stroke-width:0.3px">*</text>
<path d="M425.59,357.80 L428.21,357.80 L427.77,369.00 L426.03,369.00 Z" fill="#000"/>
<rect x="423.56" y="359.80" width="6.67" height="1.84" fill="#000"/>
<line x1="40.50" y1="545.20" x2="46.80" y2="545.20" stroke="#000" stroke-width="1.5"/>
<line x1="40.50" y1="578.80" x2="46.80" y2="578.80" stroke="#000" stroke-width="1.5"/>
<line x1="40.50" y1="612.20" x2="46.80" y2="612.20" stroke="#000" stroke-width="1.5"/>
<line x1="40.50" y1="645.40" x2="46.80" y2="645.40" stroke="#000" stroke-width="1.5"/>
<text x="38.60" y="550.70" font-size="13.0" text-anchor="end" style="stroke-width:0.4px">60</text>
<text x="38.60" y="584.30" font-size="13.0" text-anchor="end" style="stroke-width:0.4px">40</text>
<text x="38.60" y="617.70" font-size="13.0" text-anchor="end" style="stroke-width:0.4px">20</text>
<text x="38.60" y="650.90" font-size="13.0" text-anchor="end" style="stroke-width:0.4px">0</text>
<g transform="translate(16.20,596.40) rotate(-90) translate(-40.15,0) scale(0.9955,1)">
<text x="0.00" y="0.00" font-size="14.20">Cells (x 10</text>
<text x="70.25" y="-5.40" font-size="10.22">4</text>
<text x="75.94" y="0.00" font-size="14.20">)</text>
</g>
<line x1="46.80" y1="545.20" x2="46.80" y2="645.40" stroke="#000" stroke-width="1.5"/>
<line x1="46.05" y1="545.20" x2="134.50" y2="545.20" stroke="#000" stroke-width="1.5"/>
<line x1="134.50" y1="545.20" x2="134.50" y2="645.40" stroke="#000" stroke-width="1.5"/>
<line x1="46.80" y1="645.40" x2="135.25" y2="645.40" stroke="#000" stroke-width="1.5"/>
<line x1="159.10" y1="544.90" x2="164.90" y2="544.90" stroke="#000" stroke-width="1.5"/>
<line x1="159.10" y1="578.20" x2="164.90" y2="578.20" stroke="#000" stroke-width="1.5"/>
<line x1="159.10" y1="611.50" x2="164.90" y2="611.50" stroke="#000" stroke-width="1.5"/>
<line x1="159.10" y1="644.90" x2="164.90" y2="644.90" stroke="#000" stroke-width="1.5"/>
<text x="156.60" y="550.40" font-size="13.0" text-anchor="end" style="stroke-width:0.4px">30</text>
<text x="156.60" y="583.70" font-size="13.0" text-anchor="end" style="stroke-width:0.4px">20</text>
<text x="156.60" y="617.00" font-size="13.0" text-anchor="end" style="stroke-width:0.4px">10</text>
<text x="156.60" y="650.40" font-size="13.0" text-anchor="end" style="stroke-width:0.4px">0</text>
<line x1="164.90" y1="544.90" x2="164.90" y2="645.20" stroke="#000" stroke-width="1.5"/>
<line x1="164.15" y1="544.90" x2="517.65" y2="544.90" stroke="#000" stroke-width="1.5"/>
<line x1="253.00" y1="544.90" x2="253.00" y2="645.20" stroke="#000" stroke-width="1.5"/>
<line x1="341.50" y1="544.90" x2="341.50" y2="645.20" stroke="#000" stroke-width="1.5"/>
<line x1="428.60" y1="544.90" x2="428.60" y2="645.20" stroke="#000" stroke-width="1.5"/>
<line x1="516.90" y1="544.90" x2="516.90" y2="645.20" stroke="#000" stroke-width="1.5"/>
<line x1="164.90" y1="645.20" x2="517.65" y2="645.20" stroke="#000" stroke-width="1.5"/>
<line x1="67.80" y1="645.40" x2="67.80" y2="651.50" stroke="#000" stroke-width="1.5"/>
<line x1="111.20" y1="645.40" x2="111.20" y2="651.50" stroke="#000" stroke-width="1.5"/>
<line x1="186.30" y1="645.40" x2="186.30" y2="651.50" stroke="#000" stroke-width="1.5"/>
<line x1="229.00" y1="645.40" x2="229.00" y2="651.50" stroke="#000" stroke-width="1.5"/>
<line x1="274.00" y1="645.40" x2="274.00" y2="651.50" stroke="#000" stroke-width="1.5"/>
<line x1="317.70" y1="645.40" x2="317.70" y2="651.50" stroke="#000" stroke-width="1.5"/>
<line x1="362.50" y1="645.40" x2="362.50" y2="651.50" stroke="#000" stroke-width="1.5"/>
<line x1="404.00" y1="645.40" x2="404.00" y2="651.50" stroke="#000" stroke-width="1.5"/>
<line x1="449.80" y1="645.40" x2="449.80" y2="651.50" stroke="#000" stroke-width="1.5"/>
<line x1="492.60" y1="645.40" x2="492.60" y2="651.50" stroke="#000" stroke-width="1.5"/>
<text x="55.49" y="666.30" font-size="13.8" text-anchor="start" textLength="28.05" lengthAdjust="spacingAndGlyphs">PBS</text>
<text x="95.31" y="666.30" font-size="13.8" text-anchor="start" textLength="30.96" lengthAdjust="spacingAndGlyphs">OVA</text>
<text x="174.19" y="666.30" font-size="13.8" text-anchor="start" textLength="28.05" lengthAdjust="spacingAndGlyphs">PBS</text>
<text x="213.61" y="666.30" font-size="13.8" text-anchor="start" textLength="30.96" lengthAdjust="spacingAndGlyphs">OVA</text>
<text x="264.29" y="666.30" font-size="13.8" text-anchor="start" textLength="28.05" lengthAdjust="spacingAndGlyphs">PBS</text>
<text x="304.11" y="666.30" font-size="13.8" text-anchor="start" textLength="30.96" lengthAdjust="spacingAndGlyphs">OVA</text>
<text x="353.09" y="666.30" font-size="13.8" text-anchor="start" textLength="28.05" lengthAdjust="spacingAndGlyphs">PBS</text>
<text x="392.21" y="666.30" font-size="13.8" text-anchor="start" textLength="30.96" lengthAdjust="spacingAndGlyphs">OVA</text>
<text x="439.99" y="666.30" font-size="13.8" text-anchor="start" textLength="28.05" lengthAdjust="spacingAndGlyphs">PBS</text>
<text x="480.01" y="666.30" font-size="13.8" text-anchor="start" textLength="30.96" lengthAdjust="spacingAndGlyphs">OVA</text>
<text x="52.17" y="558.10" font-size="11.5" text-anchor="start" textLength="26.92" lengthAdjust="spacingAndGlyphs">Total</text>
<text x="168.81" y="558.50" font-size="11.5" text-anchor="start" textLength="76.28" lengthAdjust="spacingAndGlyphs">Macrophages</text>
<text x="254.41" y="558.10" font-size="11.5" text-anchor="start" textLength="76.07" lengthAdjust="spacingAndGlyphs">Lymphocytes</text>
<text x="347.89" y="558.30" font-size="11.5" text-anchor="start" textLength="67.00" lengthAdjust="spacingAndGlyphs">Neutrophils</text>
<text x="434.40" y="558.30" font-size="11.5" text-anchor="start" textLength="68.10" lengthAdjust="spacingAndGlyphs">Eosinophils</text>
<rect x="50.00" y="644.50" width="12.00" height="0.90" fill="#000" stroke="#000" stroke-width="1.4"/>
<rect x="62.00" y="644.10" width="12.00" height="1.30" fill="#fff" stroke="#000" stroke-width="1.4"/>
<rect x="74.00" y="644.30" width="12.00" height="1.10" fill="url(#pd)" stroke="#000" stroke-width="1.4"/>
<rect x="93.70" y="607.00" width="12.00" height="38.40" fill="#000" stroke="#000" stroke-width="1.4"/>
<rect x="105.70" y="599.90" width="12.00" height="45.50" fill="#fff" stroke="#000" stroke-width="1.4"/>
<rect x="117.70" y="625.70" width="12.00" height="19.70" fill="url(#pd)" stroke="#000" stroke-width="1.4"/>
<line x1="99.70" y1="604.10" x2="99.70" y2="592.20" stroke="#000" stroke-width="1.55"/>
<line x1="95.80" y1="592.20" x2="103.60" y2="592.20" stroke="#000" stroke-width="1.55"/>
<line x1="111.70" y1="597.00" x2="111.70" y2="585.60" stroke="#000" stroke-width="1.55"/>
<line x1="107.80" y1="585.60" x2="115.60" y2="585.60" stroke="#000" stroke-width="1.55"/>
<line x1="123.70" y1="622.80" x2="123.70" y2="614.40" stroke="#000" stroke-width="1.55"/>
<line x1="119.80" y1="614.40" x2="127.60" y2="614.40" stroke="#000" stroke-width="1.55"/>
<text x="99.60" y="584.53" font-size="12.6" text-anchor="middle" style="stroke-width:0.3px">*</text>
<text x="112.50" y="577.33" font-size="12.6" text-anchor="middle" style="stroke-width:0.3px">*</text>
<rect x="168.65" y="642.70" width="12.00" height="2.70" fill="#000" stroke="#000" stroke-width="1.4"/>
<rect x="180.65" y="639.80" width="12.00" height="5.60" fill="#fff" stroke="#000" stroke-width="1.4"/>
<rect x="192.65" y="642.70" width="12.00" height="2.70" fill="url(#pd)" stroke="#000" stroke-width="1.4"/>
<rect x="211.50" y="638.90" width="12.00" height="6.50" fill="#000" stroke="#000" stroke-width="1.4"/>
<rect x="223.50" y="636.90" width="12.00" height="8.50" fill="#fff" stroke="#000" stroke-width="1.4"/>
<rect x="235.50" y="638.90" width="12.00" height="6.50" fill="url(#pd)" stroke="#000" stroke-width="1.4"/>
<line x1="217.50" y1="636.00" x2="217.50" y2="633.80" stroke="#000" stroke-width="1.55"/>
<line x1="213.60" y1="633.80" x2="221.40" y2="633.80" stroke="#000" stroke-width="1.55"/>
<line x1="229.50" y1="634.00" x2="229.50" y2="632.50" stroke="#000" stroke-width="1.55"/>
<line x1="225.60" y1="632.50" x2="233.40" y2="632.50" stroke="#000" stroke-width="1.55"/>
<line x1="237.60" y1="635.80" x2="245.40" y2="635.80" stroke="#000" stroke-width="1.55"/>
<text x="216.90" y="626.93" font-size="12.6" text-anchor="middle" style="stroke-width:0.3px">*</text>
<text x="228.50" y="626.93" font-size="12.6" text-anchor="middle" style="stroke-width:0.3px">*</text>
<text x="240.00" y="626.93" font-size="12.6" text-anchor="middle" style="stroke-width:0.3px">*</text>
<rect x="256.30" y="644.80" width="12.00" height="0.60" fill="#000" stroke="#000" stroke-width="1.4"/>
<rect x="268.30" y="644.80" width="12.00" height="0.60" fill="#fff" stroke="#000" stroke-width="1.4"/>
<rect x="299.50" y="609.10" width="12.00" height="36.30" fill="#000" stroke="#000" stroke-width="1.4"/>
<rect x="311.50" y="597.50" width="12.00" height="47.90" fill="#fff" stroke="#000" stroke-width="1.4"/>
<rect x="323.50" y="627.90" width="12.00" height="17.50" fill="url(#pd)" stroke="#000" stroke-width="1.4"/>
<line x1="305.50" y1="606.20" x2="305.50" y2="596.40" stroke="#000" stroke-width="1.55"/>
<line x1="301.60" y1="596.40" x2="309.40" y2="596.40" stroke="#000" stroke-width="1.55"/>
<line x1="317.50" y1="594.60" x2="317.50" y2="579.70" stroke="#000" stroke-width="1.55"/>
<line x1="313.60" y1="579.70" x2="321.40" y2="579.70" stroke="#000" stroke-width="1.55"/>
<line x1="329.50" y1="625.00" x2="329.50" y2="617.60" stroke="#000" stroke-width="1.55"/>
<line x1="325.60" y1="617.60" x2="333.40" y2="617.60" stroke="#000" stroke-width="1.55"/>
<text x="305.20" y="590.33" font-size="12.6" text-anchor="middle" style="stroke-width:0.3px">*</text>
<text x="317.70" y="575.53" font-size="12.6" text-anchor="middle" style="stroke-width:0.3px">*</text>
<rect x="387.25" y="620.10" width="12.00" height="25.30" fill="#000" stroke="#000" stroke-width="1.4"/>
<rect x="399.25" y="625.30" width="12.00" height="20.10" fill="#fff" stroke="#000" stroke-width="1.4"/>
<rect x="411.25" y="637.90" width="12.00" height="7.50" fill="url(#pd)" stroke="#000" stroke-width="1.4"/>
<line x1="393.25" y1="617.20" x2="393.25" y2="608.00" stroke="#000" stroke-width="1.55"/>
<line x1="389.35" y1="608.00" x2="397.15" y2="608.00" stroke="#000" stroke-width="1.55"/>
<line x1="405.25" y1="622.40" x2="405.25" y2="617.40" stroke="#000" stroke-width="1.55"/>
<line x1="401.35" y1="617.40" x2="409.15" y2="617.40" stroke="#000" stroke-width="1.55"/>
<line x1="417.25" y1="635.00" x2="417.25" y2="632.70" stroke="#000" stroke-width="1.55"/>
<line x1="413.35" y1="632.70" x2="421.15" y2="632.70" stroke="#000" stroke-width="1.55"/>
<text x="393.90" y="599.23" font-size="12.6" text-anchor="middle" style="stroke-width:0.3px">*</text>
<text x="405.90" y="609.93" font-size="12.6" text-anchor="middle" style="stroke-width:0.3px">*</text>
<rect x="474.55" y="634.40" width="12.00" height="11.00" fill="#000" stroke="#000" stroke-width="1.4"/>
<rect x="486.55" y="632.00" width="12.00" height="13.40" fill="#fff" stroke="#000" stroke-width="1.4"/>
<rect x="498.55" y="640.30" width="12.00" height="5.10" fill="url(#pd)" stroke="#000" stroke-width="1.4"/>
<line x1="480.55" y1="631.50" x2="480.55" y2="628.70" stroke="#000" stroke-width="1.55"/>
<line x1="476.65" y1="628.70" x2="484.45" y2="628.70" stroke="#000" stroke-width="1.55"/>
<line x1="492.55" y1="629.10" x2="492.55" y2="625.50" stroke="#000" stroke-width="1.55"/>
<line x1="488.65" y1="625.50" x2="496.45" y2="625.50" stroke="#000" stroke-width="1.55"/>
<line x1="504.55" y1="637.40" x2="504.55" y2="637.00" stroke="#000" stroke-width="1.55"/>
<line x1="500.65" y1="637.00" x2="508.45" y2="637.00" stroke="#000" stroke-width="1.55"/>
<text x="481.50" y="620.53" font-size="12.6" text-anchor="middle" style="stroke-width:0.3px">*</text>
<text x="493.50" y="617.13" font-size="12.6" text-anchor="middle" style="stroke-width:0.3px">*</text>
<text x="119.20" y="600.87" font-size="10.5" text-anchor="middle" style="stroke-width:0.3px">*</text>
<path d="M124.21,594.10 L126.79,594.10 L126.36,605.10 L124.64,605.10 Z" fill="#000"/>
<rect x="122.22" y="596.06" width="6.55" height="1.80" fill="#000"/>
<text x="327.90" y="607.57" font-size="10.5" text-anchor="middle" style="stroke-width:0.3px">*</text>
<path d="M333.65,600.90 L336.35,600.90 L335.90,612.40 L334.10,612.40 Z" fill="#000"/>
<rect x="331.58" y="602.96" width="6.84" height="1.88" fill="#000"/>
<text x="414.20" y="624.87" font-size="10.5" text-anchor="middle" style="stroke-width:0.3px">*</text>
<path d="M420.12,617.70 L422.68,617.70 L422.25,628.60 L420.55,628.60 Z" fill="#000"/>
<rect x="418.15" y="619.64" width="6.50" height="1.79" fill="#000"/>
<text x="502.10" y="630.47" font-size="10.5" text-anchor="middle" style="stroke-width:0.3px">*</text>
<path d="M507.87,623.80 L510.53,623.80 L510.09,635.20 L508.31,635.20 Z" fill="#000"/>
<rect x="505.81" y="625.84" width="6.79" height="1.87" fill="#000"/>
<rect x="255.0" y="480.8" width="12.60" height="11.70" fill="#000" stroke="#000" stroke-width="1.4"/>
<rect x="255.0" y="500.0" width="12.60" height="11.40" fill="#fff" stroke="#000" stroke-width="1.4"/>
<rect x="255.0" y="522.9" width="12.60" height="11.10" fill="url(#pd)" stroke="#000" stroke-width="1.4"/>
<g transform="translate(277.00,492.00) scale(1.0382,1)">
<text x="0.00" y="0.00" font-size="11.50">WT OTII CD4</text>
<text x="69.63" y="-4.37" font-size="8.28">+</text>
<text x="74.47" y="0.00" font-size="11.50"> T cells</text>
</g>
<line x1="399.80" y1="488.60" x2="416.60" y2="488.60" stroke="#000" stroke-width="1.7"/>
<path d="M420.60,488.60 L411.40,484.20 L412.60,486.00 L415.40,488.60 L412.60,491.20 L411.40,493.00 Z" fill="#000" stroke="#000" stroke-width="0.6" stroke-linejoin="round"/>
<g transform="translate(430.60,491.60) scale(1.0391,1)">
<text x="0.00" y="0.00" font-size="11.50">Rag1</text>
<text x="28.12" y="-4.37" font-size="8.28">-/-</text>
<text x="35.94" y="0.00" font-size="11.50"> mice</text>
</g>
<g transform="translate(277.00,511.40) scale(1.0719,1)">
<text x="0.00" y="0.00" font-size="11.50">TNF</text>
<text x="22.35" y="-4.37" font-size="8.28">-/-</text>
<text x="30.17" y="0.00" font-size="11.50"> OTII CD4</text>
<text x="81.92" y="-4.37" font-size="8.28">+</text>
<text x="86.76" y="0.00" font-size="11.50"> T cells</text>
</g>
<line x1="416.30" y1="507.80" x2="432.70" y2="507.80" stroke="#000" stroke-width="1.7"/>
<path d="M436.70,507.80 L427.50,503.40 L428.70,505.20 L431.50,507.80 L428.70,510.40 L427.50,512.20 Z" fill="#000" stroke="#000" stroke-width="0.6" stroke-linejoin="round"/>
<g transform="translate(447.30,510.50) scale(1.0299,1)">
<text x="0.00" y="0.00" font-size="11.50">Rag1</text>
<text x="28.12" y="-4.37" font-size="8.28">-/-</text>
<text x="35.94" y="0.00" font-size="11.50"> mice</text>
</g>
<g transform="translate(277.80,533.40) scale(1.0542,1)">
<text x="0.00" y="0.00" font-size="11.50">IL-17</text>
<text x="26.84" y="-4.37" font-size="8.28">-/-</text>
<text x="34.66" y="0.00" font-size="11.50"> OTII CD4</text>
<text x="86.41" y="-4.37" font-size="8.28">+</text>
<text x="91.25" y="0.00" font-size="11.50"> T cells</text>
</g>
<line x1="420.00" y1="527.80" x2="436.50" y2="527.80" stroke="#000" stroke-width="1.7"/>
<path d="M440.50,527.80 L431.30,523.40 L432.50,525.20 L435.30,527.80 L432.50,530.40 L431.30,532.20 Z" fill="#000" stroke="#000" stroke-width="0.6" stroke-linejoin="round"/>
<g transform="translate(451.40,531.40) scale(1.0177,1)">
<text x="0.00" y="0.00" font-size="11.50">Rag1</text>
<text x="28.12" y="-4.37" font-size="8.28">-/-</text>
<text x="35.94" y="0.00" font-size="11.50"> mice</text>
</g>
</svg>
</body></html>
